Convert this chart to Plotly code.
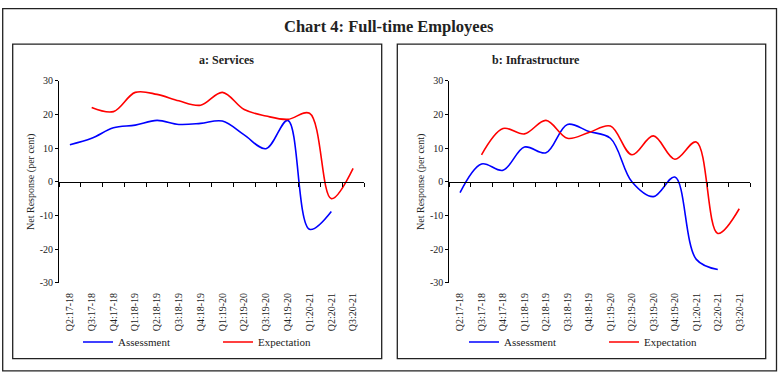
import plotly.graph_objects as go

quarters = ["Q2:17-18", "Q3:17-18", "Q4:17-18", "Q1:18-19", "Q2:18-19", "Q3:18-19", "Q4:18-19",
            "Q1:19-20", "Q2:19-20", "Q3:19-20", "Q4:19-20", "Q1:20-21", "Q2:20-21", "Q3:20-21"]

services_assessment = [11, 12.9, 16, 16.8, 18.2, 17, 17.3, 18, 13.9, 9.8, 18.2, -14.1, -8.8, None]
services_expectation = [None, 22, 20.8, 26.5, 25.9, 24, 22.7, 26.5, 21.4, 19.5, 18.5, 20.3, -5, 4]

infra_assessment = [-3.2, 5.3, 3.4, 10.3, 8.6, 17, 14.9, 12.9, 0, -4.4, 1.4, -23, -26, None]
infra_expectation = [None, 8, 15.8, 14.2, 18.2, 12.9, 14.6, 16.5, 8, 13.6, 6.7, 11.8, -15.3, -8]

y_ticks = [30, 20, 10, 0, -10, -20, -30]
y_tick_labels = ["30", "20", "10", "0", "-10", "-20", "-30"]

W, H = 780, 381
FONT = "Liberation Serif"

def px(x):
    return x / W

def py(y):
    return 1 - y / H

ydom = [py(286), py(77)]
left_dom = [px(59), px(364)]
right_dom = [px(449.3), px(750)]

fig = go.Figure()

panels = [
    (services_assessment, services_expectation, "x", "y", "legend"),
    (infra_assessment, infra_expectation, "x2", "y2", "legend2"),
]
for a, e, xa, ya, lg in panels:
    fig.add_trace(go.Scatter(x=quarters, y=a, mode="lines", name="Assessment",
                             line=dict(color="#0000FF", width=1.6, shape="spline", smoothing=1),
                             xaxis=xa, yaxis=ya, legend=lg, connectgaps=False))
    fig.add_trace(go.Scatter(x=quarters, y=e, mode="lines", name="Expectation",
                             line=dict(color="#FF0000", width=1.6, shape="spline", smoothing=1),
                             xaxis=xa, yaxis=ya, legend=lg, connectgaps=False))

xcommon = dict(type="category", categoryorder="array", categoryarray=quarters,
               range=[-0.5, 13.5], tickangle=-90, showline=False, showgrid=False,
               zeroline=False, ticks="outside", ticklen=5, tickcolor="rgba(0,0,0,0)",
               tickfont=dict(family=FONT, size=10, color="#222"))
ycommon = dict(range=[-30, 30], tickvals=y_ticks, ticktext=y_tick_labels, showgrid=False, zeroline=False,
               showline=True, linecolor="#000", linewidth=1, ticks="outside", ticklen=3,
               tickcolor="#000", tickfont=dict(family=FONT, size=10, color="#222"),
               title=dict(text="Net Response (per cent)", font=dict(family=FONT, size=10, color="#222"),
                          standoff=3))
zcommon = dict(type="category", categoryorder="array", categoryarray=quarters,
               range=[-0.5, 13.5], showline=True, linecolor="#000", linewidth=1,
               ticks="outside", tickson="boundaries", ticklen=4, tickcolor="#000",
               showticklabels=False, showgrid=False, zeroline=False,
               anchor="free", position=(ydom[0] + ydom[1]) / 2, side="bottom")

fig.update_layout(
    width=W, height=H,
    margin=dict(l=0, r=0, t=0, b=0),
    paper_bgcolor="white", plot_bgcolor="rgba(0,0,0,0)",
    showlegend=True,
    xaxis=dict(domain=left_dom, anchor="y", **xcommon),
    yaxis=dict(domain=ydom, anchor="x", **ycommon),
    xaxis2=dict(domain=right_dom, anchor="y2", **xcommon),
    yaxis2=dict(domain=ydom, anchor="x2", **ycommon),
    xaxis3=dict(domain=left_dom, overlaying="x", **zcommon),
    xaxis4=dict(domain=right_dom, overlaying="x2", **zcommon),
    legend=dict(orientation="h", x=px(78), xanchor="left", y=py(347), yanchor="middle",
                font=dict(family=FONT, size=11, color="#222"), entrywidth=95,
                bgcolor="rgba(0,0,0,0)", tracegroupgap=0),
    legend2=dict(orientation="h", x=px(464), xanchor="left", y=py(347), yanchor="middle",
                 font=dict(family=FONT, size=11, color="#222"), entrywidth=95,
                 bgcolor="rgba(0,0,0,0)", tracegroupgap=0),
    annotations=[
        dict(text="<b>Chart 4: Full-time Employees</b>", x=px(389), y=py(21), xref="paper", yref="paper",
             showarrow=False, font=dict(family=FONT, size=16.5, color="#222"), yanchor="middle"),
        dict(text="<b>a: Services</b>", x=px(197), y=py(56), xref="paper", yref="paper",
             showarrow=False, font=dict(family=FONT, size=12, color="#222"), yanchor="middle"),
        dict(text="<b>b: Infrastructure</b>", x=px(582), y=py(56), xref="paper", yref="paper",
             showarrow=False, font=dict(family=FONT, size=12, color="#222"), yanchor="middle"),
    ],
    shapes=[
        dict(type="rect", xref="paper", yref="paper", x0=px(2.7), x1=px(776.5), y0=py(376.7), y1=py(2.7),
             line=dict(color="#222", width=1.3)),
        dict(type="rect", xref="paper", yref="paper", x0=px(12.7), x1=px(381.7), y0=py(364), y1=py(39.3),
             line=dict(color="#222", width=1.3)),
        dict(type="rect", xref="paper", yref="paper", x0=px(397.3), x1=px(765.7), y0=py(364), y1=py(39.3),
             line=dict(color="#222", width=1.3)),
    ],
)

# empty traces so the overlaid zero-line axes render
fig.add_trace(go.Scatter(x=quarters, y=[None] * len(quarters), xaxis="x3", yaxis="y",
                         showlegend=False, hoverinfo="skip"))
fig.add_trace(go.Scatter(x=quarters, y=[None] * len(quarters), xaxis="x4", yaxis="y2",
                         showlegend=False, hoverinfo="skip"))

post = ("var d=document.getElementById('{plot_id}');"
        "d.style.position='fixed';d.style.top='0px';d.style.left='0px';"
        "document.documentElement.style.margin='0';document.body.style.margin='0';"
        "document.documentElement.style.overflow='hidden';document.body.style.overflow='hidden';")

fig.write_html("out.html", config={"displayModeBar": False}, post_script=post)
